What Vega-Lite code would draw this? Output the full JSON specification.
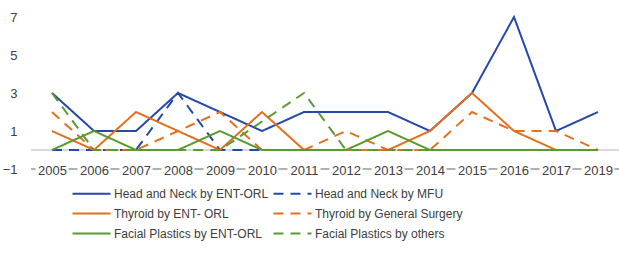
{
  "$schema": "https://vega.github.io/schema/vega-lite/v6.json",
  "autosize": {"type": "none"},
  "width": 588,
  "height": 152,
  "padding": {"left": 31, "top": 17, "right": 0, "bottom": 88},
  "background": "white",
  "config": {
    "view": {"stroke": null},
    "font": "Liberation Sans",
    "axis": {"labelFont": "Liberation Sans", "labelFontSize": 13, "labelColor": "#404040"},
    "legend": {"labelFont": "Liberation Sans", "labelFontSize": 12, "labelColor": "#404040"}
  },
  "data": {
    "values": [
      {"year": "2005", "series": "Head and Neck by ENT-ORL", "value": 3},
      {"year": "2006", "series": "Head and Neck by ENT-ORL", "value": 1},
      {"year": "2007", "series": "Head and Neck by ENT-ORL", "value": 1},
      {"year": "2008", "series": "Head and Neck by ENT-ORL", "value": 3},
      {"year": "2009", "series": "Head and Neck by ENT-ORL", "value": 2},
      {"year": "2010", "series": "Head and Neck by ENT-ORL", "value": 1},
      {"year": "2011", "series": "Head and Neck by ENT-ORL", "value": 2},
      {"year": "2012", "series": "Head and Neck by ENT-ORL", "value": 2},
      {"year": "2013", "series": "Head and Neck by ENT-ORL", "value": 2},
      {"year": "2014", "series": "Head and Neck by ENT-ORL", "value": 1},
      {"year": "2015", "series": "Head and Neck by ENT-ORL", "value": 3},
      {"year": "2016", "series": "Head and Neck by ENT-ORL", "value": 7},
      {"year": "2017", "series": "Head and Neck by ENT-ORL", "value": 1},
      {"year": "2019", "series": "Head and Neck by ENT-ORL", "value": 2},
      {"year": "2005", "series": "Head and Neck by MFU", "value": 0},
      {"year": "2006", "series": "Head and Neck by MFU", "value": 0},
      {"year": "2007", "series": "Head and Neck by MFU", "value": 0},
      {"year": "2008", "series": "Head and Neck by MFU", "value": 3},
      {"year": "2009", "series": "Head and Neck by MFU", "value": 0},
      {"year": "2010", "series": "Head and Neck by MFU", "value": 0},
      {"year": "2011", "series": "Head and Neck by MFU", "value": 0},
      {"year": "2012", "series": "Head and Neck by MFU", "value": 0},
      {"year": "2013", "series": "Head and Neck by MFU", "value": 0},
      {"year": "2014", "series": "Head and Neck by MFU", "value": 0},
      {"year": "2015", "series": "Head and Neck by MFU", "value": 0},
      {"year": "2016", "series": "Head and Neck by MFU", "value": 0},
      {"year": "2017", "series": "Head and Neck by MFU", "value": 0},
      {"year": "2019", "series": "Head and Neck by MFU", "value": 0},
      {"year": "2005", "series": "Thyroid by ENT- ORL", "value": 1},
      {"year": "2006", "series": "Thyroid by ENT- ORL", "value": 0},
      {"year": "2007", "series": "Thyroid by ENT- ORL", "value": 2},
      {"year": "2008", "series": "Thyroid by ENT- ORL", "value": 1},
      {"year": "2009", "series": "Thyroid by ENT- ORL", "value": 0},
      {"year": "2010", "series": "Thyroid by ENT- ORL", "value": 2},
      {"year": "2011", "series": "Thyroid by ENT- ORL", "value": 0},
      {"year": "2012", "series": "Thyroid by ENT- ORL", "value": 0},
      {"year": "2013", "series": "Thyroid by ENT- ORL", "value": 0},
      {"year": "2014", "series": "Thyroid by ENT- ORL", "value": 1},
      {"year": "2015", "series": "Thyroid by ENT- ORL", "value": 3},
      {"year": "2016", "series": "Thyroid by ENT- ORL", "value": 1},
      {"year": "2017", "series": "Thyroid by ENT- ORL", "value": 0},
      {"year": "2019", "series": "Thyroid by ENT- ORL", "value": 0},
      {"year": "2005", "series": "Thyroid by General Surgery", "value": 2},
      {"year": "2006", "series": "Thyroid by General Surgery", "value": 0},
      {"year": "2007", "series": "Thyroid by General Surgery", "value": 0},
      {"year": "2008", "series": "Thyroid by General Surgery", "value": 1},
      {"year": "2009", "series": "Thyroid by General Surgery", "value": 2},
      {"year": "2010", "series": "Thyroid by General Surgery", "value": 0},
      {"year": "2011", "series": "Thyroid by General Surgery", "value": 0},
      {"year": "2012", "series": "Thyroid by General Surgery", "value": 1},
      {"year": "2013", "series": "Thyroid by General Surgery", "value": 0},
      {"year": "2014", "series": "Thyroid by General Surgery", "value": 0},
      {"year": "2015", "series": "Thyroid by General Surgery", "value": 2},
      {"year": "2016", "series": "Thyroid by General Surgery", "value": 1},
      {"year": "2017", "series": "Thyroid by General Surgery", "value": 1},
      {"year": "2019", "series": "Thyroid by General Surgery", "value": 0},
      {"year": "2005", "series": "Facial Plastics by ENT-ORL", "value": 0},
      {"year": "2006", "series": "Facial Plastics by ENT-ORL", "value": 1},
      {"year": "2007", "series": "Facial Plastics by ENT-ORL", "value": 0},
      {"year": "2008", "series": "Facial Plastics by ENT-ORL", "value": 0},
      {"year": "2009", "series": "Facial Plastics by ENT-ORL", "value": 1},
      {"year": "2010", "series": "Facial Plastics by ENT-ORL", "value": 0},
      {"year": "2011", "series": "Facial Plastics by ENT-ORL", "value": 0},
      {"year": "2012", "series": "Facial Plastics by ENT-ORL", "value": 0},
      {"year": "2013", "series": "Facial Plastics by ENT-ORL", "value": 1},
      {"year": "2014", "series": "Facial Plastics by ENT-ORL", "value": 0},
      {"year": "2015", "series": "Facial Plastics by ENT-ORL", "value": 0},
      {"year": "2016", "series": "Facial Plastics by ENT-ORL", "value": 0},
      {"year": "2017", "series": "Facial Plastics by ENT-ORL", "value": 0},
      {"year": "2019", "series": "Facial Plastics by ENT-ORL", "value": 0},
      {"year": "2005", "series": "Facial Plastics by others", "value": 3},
      {"year": "2006", "series": "Facial Plastics by others", "value": 0},
      {"year": "2007", "series": "Facial Plastics by others", "value": 0},
      {"year": "2008", "series": "Facial Plastics by others", "value": 0},
      {"year": "2009", "series": "Facial Plastics by others", "value": 0},
      {"year": "2010", "series": "Facial Plastics by others", "value": 1.5},
      {"year": "2011", "series": "Facial Plastics by others", "value": 3},
      {"year": "2012", "series": "Facial Plastics by others", "value": 0},
      {"year": "2013", "series": "Facial Plastics by others", "value": 0},
      {"year": "2014", "series": "Facial Plastics by others", "value": 0},
      {"year": "2015", "series": "Facial Plastics by others", "value": 0},
      {"year": "2016", "series": "Facial Plastics by others", "value": 0},
      {"year": "2017", "series": "Facial Plastics by others", "value": 0},
      {"year": "2019", "series": "Facial Plastics by others", "value": 0}
    ]
  },
  "encoding": {
    "x": {
      "field": "year",
      "type": "ordinal",
      "scale": {"type": "point", "padding": 0.5},
      "axis": {"title": null, "labelAngle": 0, "ticks": false, "domain": false, "grid": false, "labelPadding": 1, "labelBaseline": "middle", "zindex": 1}
    }
  },
  "layer": [
    {
      "mark": {"type": "rule", "color": "#d9d9d9", "strokeWidth": 1},
      "encoding": {"x": null, "y": {"datum": 0, "type": "quantitative",
        "scale": {"domain": [-1, 7], "nice": false, "zero": false},
        "axis": {"title": null, "values": [-1, 1, 3, 5, 7], "tickCount": 10, "ticks": false, "domain": false, "labelPadding": 14, "labelOverlap": false, "gridColor": "#d9d9d9", "gridWidth": 1, "zindex": 0}}}
    },
    {
      "mark": {"type": "rule", "color": "#b0b0b0", "strokeWidth": 1},
      "encoding": {"x": null, "y": {"datum": -1, "type": "quantitative",
        "axis": {"title": null, "values": [-1, 1, 3, 5, 7], "tickCount": 10, "ticks": false, "domain": false, "labelPadding": 14, "labelOverlap": false, "gridColor": "#d9d9d9", "gridWidth": 1, "zindex": 0}}}
    },
    {
      "transform": [{"filter": "datum.series === 'Head and Neck by ENT-ORL'"}],
      "mark": {"type": "bar", "color": "white", "size": 33},
      "encoding": {
        "y": {"datum": -1.4, "type": "quantitative",
          "axis": {"title": null, "values": [-1, 1, 3, 5, 7], "tickCount": 10, "ticks": false, "domain": false, "labelPadding": 14, "labelOverlap": false, "gridColor": "#d9d9d9", "gridWidth": 1, "zindex": 0}},
        "y2": {"datum": -0.6}
      }
    },
    {
      "mark": {"type": "line", "strokeWidth": 2},
      "encoding": {
        "y": {
          "field": "value",
          "type": "quantitative",
          "scale": {"domain": [-1, 7], "nice": false, "zero": false},
          "axis": {"title": null, "values": [-1, 1, 3, 5, 7], "tickCount": 10, "ticks": false, "domain": false, "labelPadding": 14, "labelOverlap": false, "gridColor": "#d9d9d9", "gridWidth": 1, "zindex": 0}
        },
        "color": {
          "field": "series",
          "type": "nominal",
          "sort": null,
          "scale": {
            "domain": ["Head and Neck by ENT-ORL", "Head and Neck by MFU", "Thyroid by ENT- ORL", "Thyroid by General Surgery", "Facial Plastics by ENT-ORL", "Facial Plastics by others"],
            "range": ["#2448a8", "#2448a8", "#e4701e", "#e4701e", "#5a9a30", "#5a9a30"]
          },
          "legend": {
            "title": null,
            "orient": "none",
            "direction": "horizontal",
            "legendX": 50,
            "legendY": 166,
            "columns": 2,
            "symbolType": "M-2,0H2",
            "symbolSize": 361,
            "symbolStrokeWidth": 2,
            "labelOffset": 12,
            "labelLimit": 400,
            "columnPadding": 0,
            "rowPadding": 3
          }
        },
        "strokeDash": {
          "field": "series",
          "type": "nominal",
          "sort": null,
          "scale": {
            "domain": ["Head and Neck by ENT-ORL", "Head and Neck by MFU", "Thyroid by ENT- ORL", "Thyroid by General Surgery", "Facial Plastics by ENT-ORL", "Facial Plastics by others"],
            "range": [[1, 0], [10, 7], [1, 0], [10, 7], [1, 0], [10, 7]]
          },
          "legend": null
        }
      }
    }
  ]
}
